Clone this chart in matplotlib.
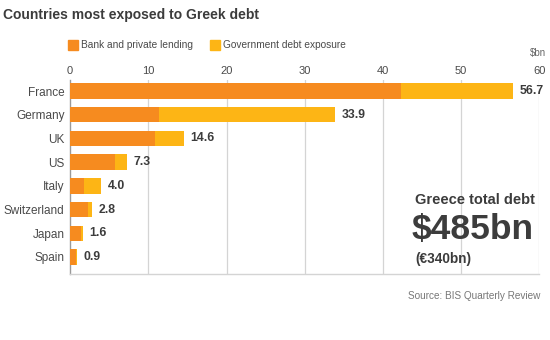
import matplotlib
matplotlib.use("Agg")
import matplotlib.pyplot as plt
from matplotlib.patches import Rectangle

# Exposure to Greek debt by country ($bn)
countries = ["France", "Germany", "UK", "US", "Italy", "Switzerland", "Japan", "Spain"]
bank_lending = [42.3, 11.4, 10.8, 5.8, 1.8, 2.3, 1.4, 0.7]
totals = [56.7, 33.9, 14.6, 7.3, 4.0, 2.8, 1.6, 0.9]
gov_exposure = [t - b for t, b in zip(totals, bank_lending)]
xticks = [0, 10, 20, 30, 40, 50, 60]

ORANGE = "#F68B1F"
YELLOW = "#FDB515"
TEXT = "#3c3c3c"
GRID = "#d4d4d4"

plt.rcParams["font.family"] = ["Liberation Sans", "DejaVu Sans"]

fig = plt.figure(figsize=(5.5, 3.4), dpi=100)
ax = fig.add_axes([0.1275, 0.194, 0.853, 0.571])

y = list(range(len(countries)))
ax.barh(y, bank_lending, height=0.65, color=ORANGE, zorder=3)
ax.barh(y, gov_exposure, left=bank_lending, height=0.65, color=YELLOW, zorder=3)

for yi, total in zip(y, totals):
    ax.text(total + 0.8, yi, f"{total:.1f}", va="center", ha="left",
            fontsize=8.8, fontweight="bold", color=TEXT)

ax.set_xlim(0, 60)
ax.set_ylim(len(countries) - 0.28, -0.47)
ax.set_yticks(y)
ax.set_yticklabels(countries, fontsize=8.5, color="#4a4a4a")
ax.set_xticks(xticks)
ax.set_xticklabels([str(t) for t in xticks], fontsize=8, color="#4a4a4a")
ax.xaxis.tick_top()
ax.tick_params(axis="both", length=0, pad=4)
ax.tick_params(axis="x", pad=3)

for t in xticks[1:]:
    ax.axvline(t, color=GRID, lw=0.9, zorder=1)
for side in ["top", "right"]:
    ax.spines[side].set_visible(False)
ax.spines["left"].set_color("#9a9a9a")
ax.spines["left"].set_linewidth(1.0)
ax.spines["bottom"].set_color(GRID)
ax.spines["bottom"].set_linewidth(1.0)

ax.text(60.9, -1.6, "$bn", ha="right", va="center", fontsize=7, color="#666666")

# Title
fig.text(0.006, 0.955, "Countries most exposed to Greek debt", fontsize=10,
         fontweight="bold", color=TEXT, ha="left", va="center")

# Legend swatches
fig.patches.append(Rectangle((68 / 550, 1 - 50 / 340), 10 / 550, 10 / 340,
                             transform=fig.transFigure, color=ORANGE))
fig.text(81 / 550, 1 - 45 / 340, "Bank and private lending", fontsize=7.3,
         color="#4a4a4a", ha="left", va="center")
fig.patches.append(Rectangle((210 / 550, 1 - 50 / 340), 10 / 550, 10 / 340,
                             transform=fig.transFigure, color=YELLOW))
fig.text(223 / 550, 1 - 45 / 340, "Government debt exposure", fontsize=7.3,
         color="#4a4a4a", ha="left", va="center")

# Greece total debt box
fig.text(415 / 550, 1 - 200 / 340, "Greece total debt", fontsize=10.5,
         fontweight="bold", color=TEXT, ha="left", va="center")
fig.text(412 / 550, 1 - 229 / 340, "$485bn", fontsize=25.5,
         fontweight="bold", color=TEXT, ha="left", va="center")
fig.text(415 / 550, 1 - 259 / 340, "(€340bn)", fontsize=9.8,
         fontweight="bold", color=TEXT, ha="left", va="center")

fig.text(540 / 550, 1 - 296 / 340, "Source: BIS Quarterly Review", fontsize=7.2,
         color="#777777", ha="right", va="center")

fig.savefig("out.png", dpi=100, facecolor="white")
